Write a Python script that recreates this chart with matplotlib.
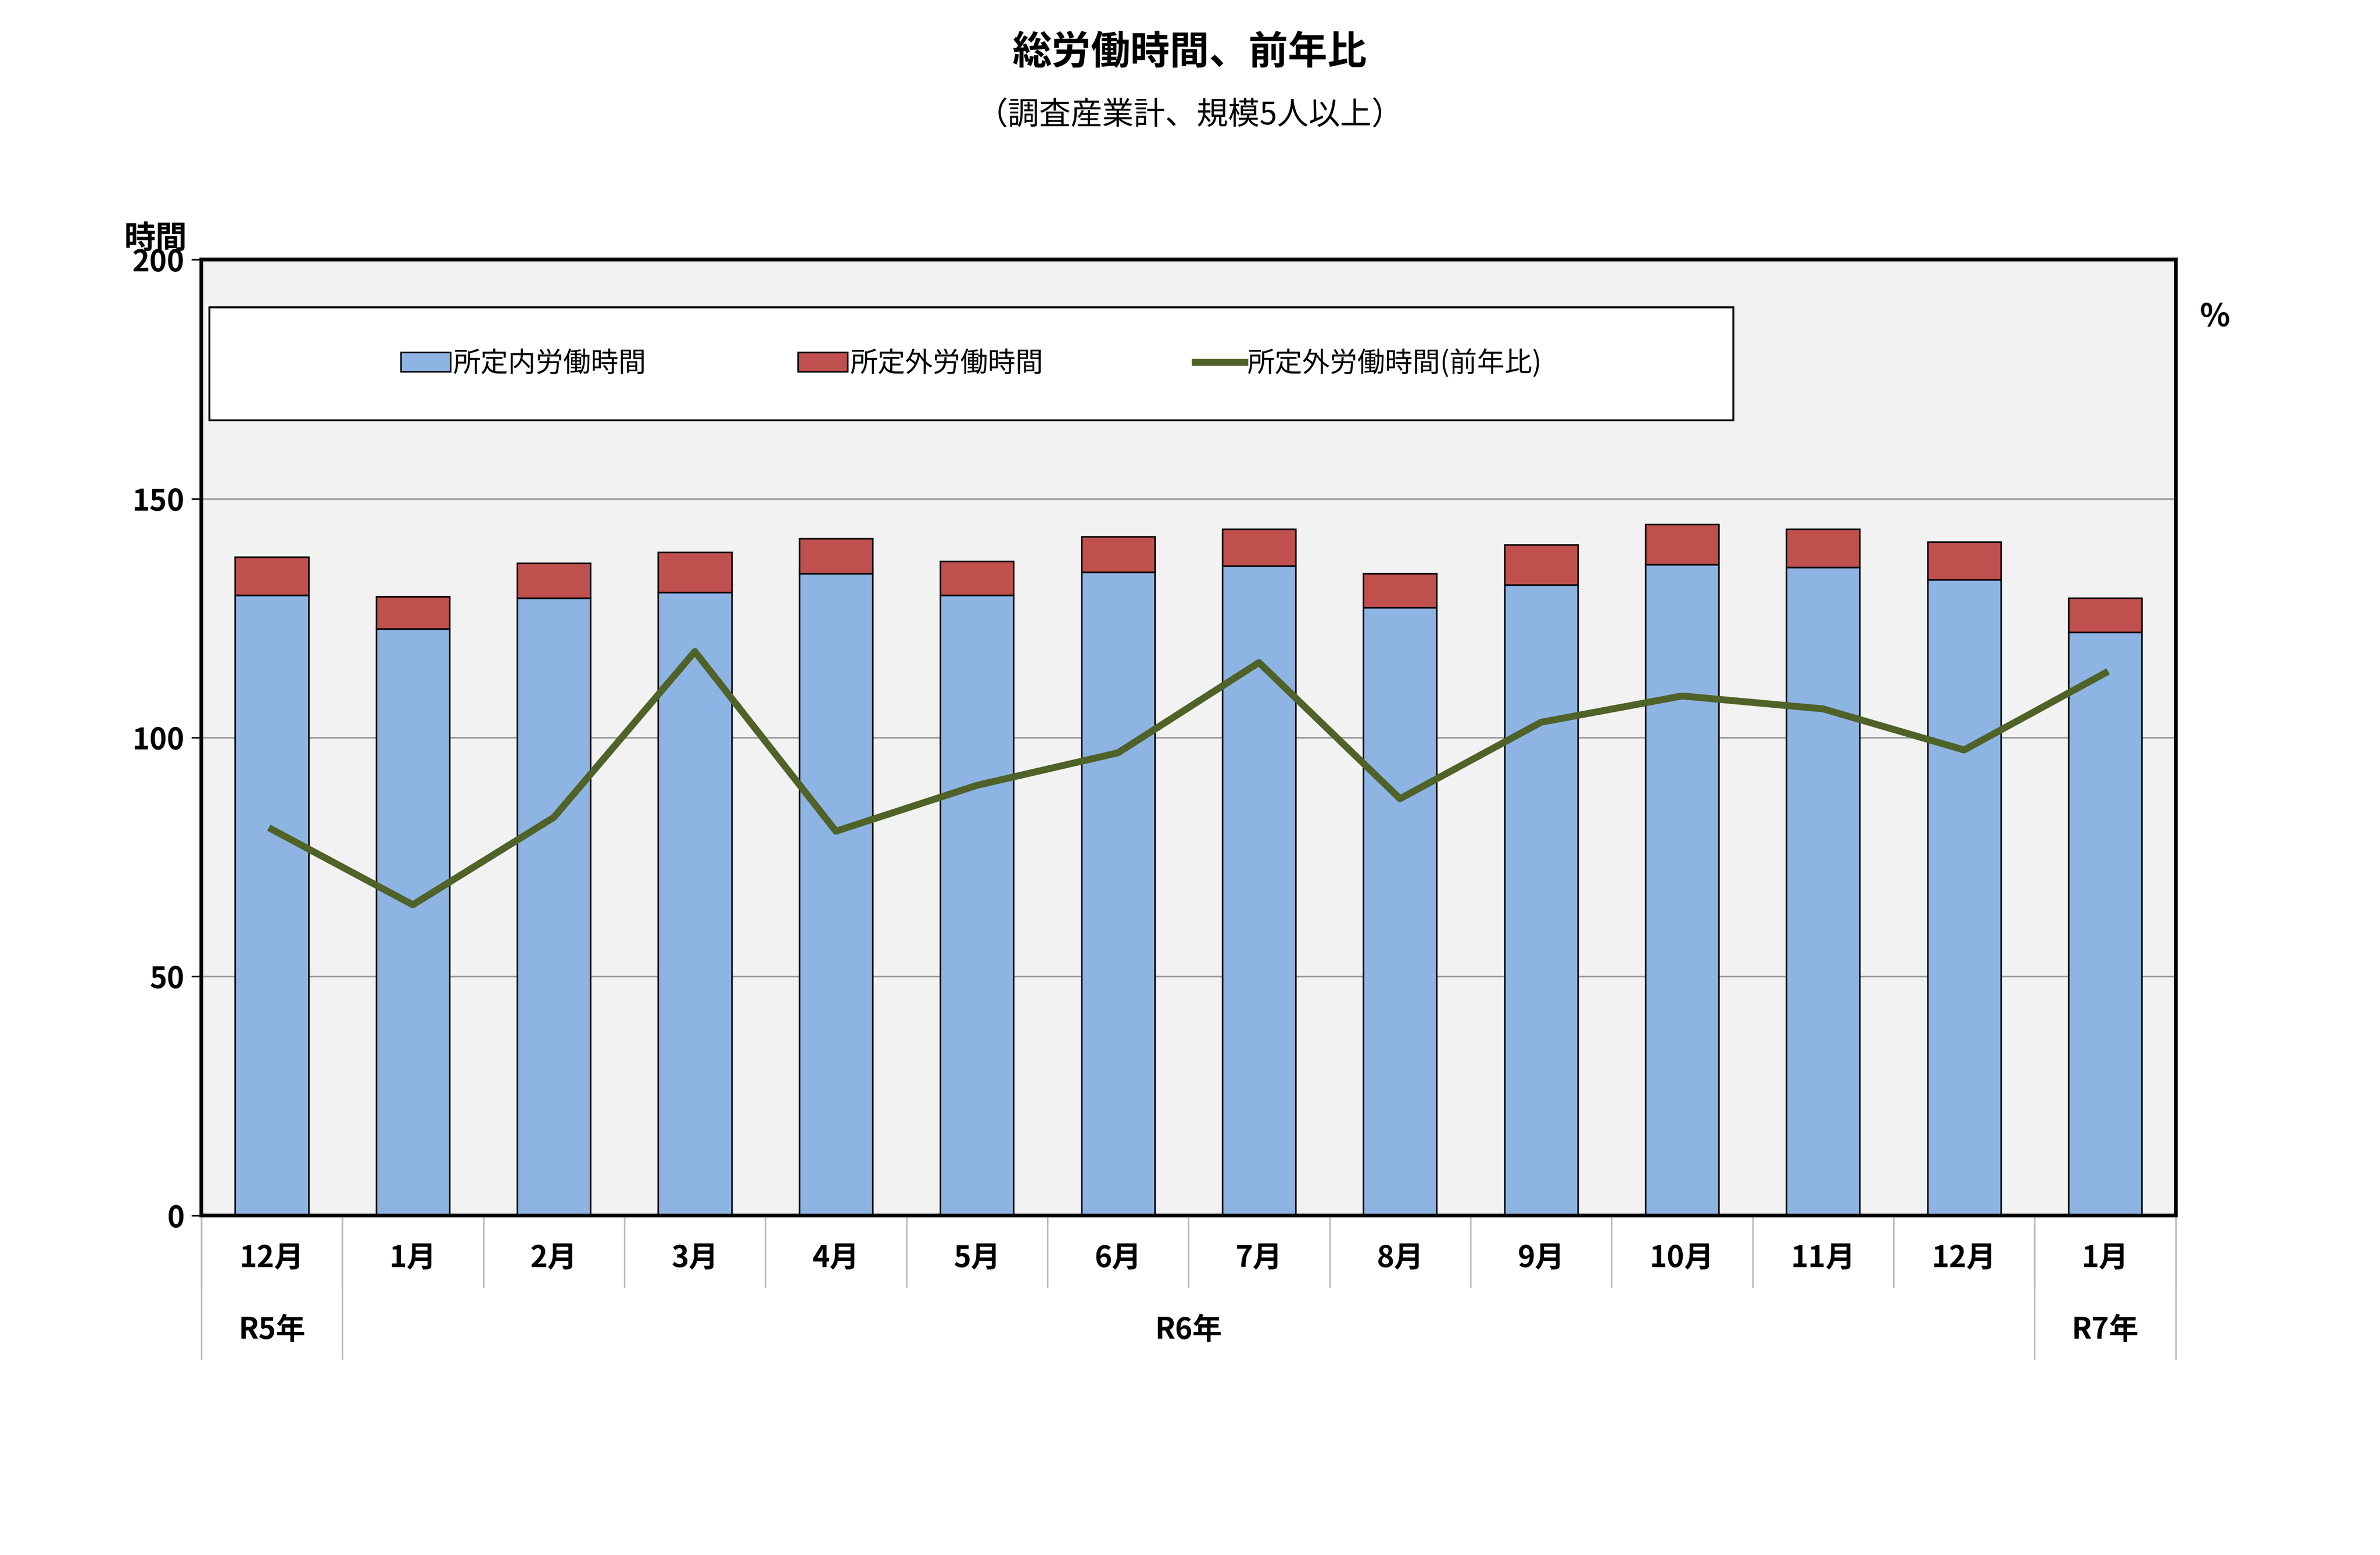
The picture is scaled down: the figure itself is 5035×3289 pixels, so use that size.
import matplotlib
matplotlib.use("Agg")
import matplotlib.pyplot as plt
from matplotlib.patches import Rectangle
import numpy as np

plt.rcParams["font.family"] = "Noto Sans CJK JP"

months = ["12月","1月","2月","3月","4月","5月","6月","7月","8月","9月","10月","11月","12月","1月"]
scheduled = [129.8,122.8,129.2,130.4,134.3,129.8,134.6,135.9,127.2,132.0,136.2,135.6,133.0,122.1]
totals = [137.8,129.5,136.5,138.8,141.7,136.9,142.0,143.6,134.3,140.4,144.6,143.6,141.0,129.2]
overtime = [t - s for t, s in zip(totals, scheduled)]
overtime_yoy = [80.8,65.0,83.3,118.0,80.4,90.0,96.8,115.7,87.2,103.2,108.7,106.0,97.4,113.5]
groups = [("R5年",0,1),("R6年",1,13),("R7年",13,14)]

W, H = 5035, 3289
fig = plt.figure(figsize=(W/300, H/300), dpi=300)
L, R, T, B = 131/1549, 1416/1549, 169/1012, 791/1012
ax = fig.add_axes([L, 1-B, R-L, B-T])
ax.set_facecolor("#f2f2f2")
x = np.arange(len(months))
ax.bar(x, scheduled, 0.52, color="#8eb4e3", edgecolor="black", linewidth=0.8, label="所定内労働時間", zorder=3)
ax.bar(x, overtime, 0.52, bottom=scheduled, color="#c0504d", edgecolor="black", linewidth=0.8, label="所定外労働時間", zorder=3)
ax2 = ax.twinx()
ax2.plot(x, overtime_yoy, color="#4f6228", linewidth=3.5, label="所定外労働時間(前年比)", zorder=4)
ax2.set_ylim(0, 200); ax2.set_yticks([])
ax.set_ylim(0, 200); ax.set_xlim(-0.5, len(months)-0.5)
ax.set_yticks([0,50,100,150,200])
ax.tick_params(axis="y", labelsize=15, direction="out", length=5)
for lab in ax.get_yticklabels(): lab.set_fontweight("bold")
ax.set_xticks([])
ax.grid(axis="y", color="#999999", linewidth=0.8, zorder=0)
for a in (ax, ax2):
    for s in a.spines.values(): s.set_linewidth(1.8)
ax.text(-0.023, 1.005, "時間", transform=ax.transAxes, fontsize=16, fontweight="bold", ha="center", va="bottom")
ax2.text(1.02, 0.94, "%", transform=ax.transAxes, fontsize=16, fontweight="bold", ha="center", va="center")

tr = ax.get_xaxis_transform()
for i, m in enumerate(months):
    ax.text(i, -0.045, m, transform=tr, ha="center", va="center", fontsize=15, fontweight="bold")
for i in range(len(months)+1):
    ax.plot([i-0.5, i-0.5], [0, -0.075], transform=tr, color="#bbbbbb", linewidth=0.8, clip_on=False)
for name, s, e in groups:
    ax.text((s+e-1)/2, -0.12, name, transform=tr, ha="center", va="center", fontsize=15, fontweight="bold")
for i in [0, 1, 13, 14]:
    ax.plot([i-0.5, i-0.5], [0, -0.15], transform=tr, color="#bbbbbb", linewidth=0.8, clip_on=False)

ax2.add_patch(Rectangle((0.004, 0.832), 0.772, 0.118, transform=ax.transAxes, facecolor="white",
                        edgecolor="black", linewidth=1.0, zorder=5, clip_on=False))
h1, l1 = ax.get_legend_handles_labels()
h2, l2 = ax2.get_legend_handles_labels()
leg = ax2.legend(h1+h2, l1+l2, loc="center", bbox_to_anchor=(0.39, 0.891),
                 ncol=3, fontsize=14, frameon=False, handlelength=1.8, handletextpad=0.1, columnspacing=5.5)
leg.set_zorder(6)

fig.text(0.5, 0.966, "総労働時間、前年比", ha="center", va="center", fontsize=20, fontweight="bold")
fig.text(0.5, 0.926, "（調査産業計、規模5人以上）", ha="center", va="center", fontsize=16)
fig.savefig("out.png", dpi=300, facecolor="white")
